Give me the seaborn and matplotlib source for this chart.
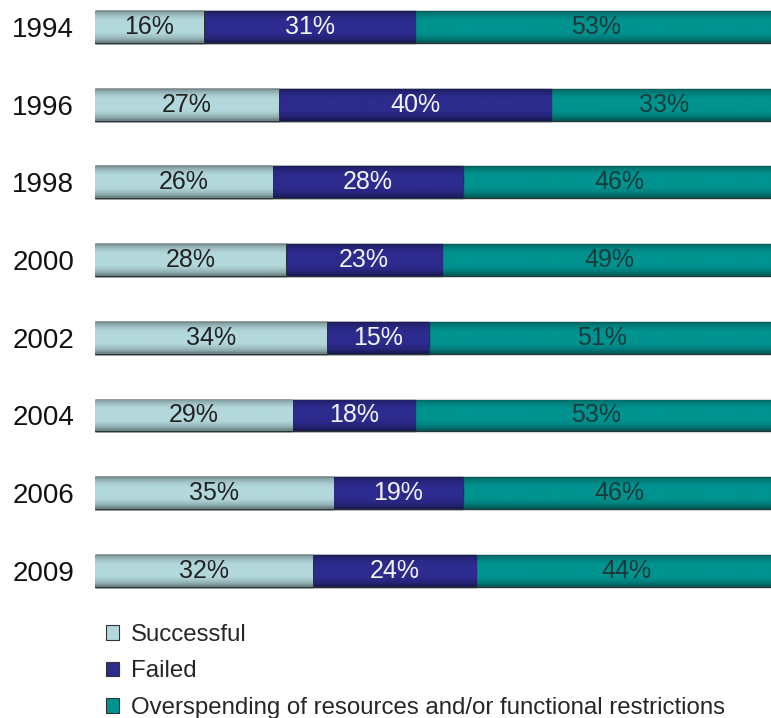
import matplotlib
matplotlib.use("Agg")
import matplotlib.pyplot as plt
import matplotlib.colors as mcolors
import seaborn as sns
import numpy as np
import pandas as pd
from matplotlib.patches import Patch

years = ["1994", "1996", "1998", "2000", "2002", "2004", "2006", "2009"]
successful = [16, 27, 26, 28, 34, 29, 35, 32]
failed = [31, 40, 28, 23, 15, 18, 19, 24]
overspending = [53, 33, 46, 49, 51, 53, 46, 44]
series_names = ["Successful", "Failed", "Overspending of resources and/or functional restrictions"]
colors = ["#b3d8dc", "#2d2b8e", "#00938f"]
text_colors = ["#222222", "#f4f4f4", "#1c3a3a"]

sns.set_theme(style="white")
plt.rcParams["font.family"] = ["Liberation Sans", "DejaVu Sans"]

W, H = 771, 718
fig = plt.figure(figsize=(W / 100, H / 100), dpi=100)
ax = fig.add_axes([95 / W, (H - 610) / H, 681 / W, 610 / H])

vals = np.array([successful, failed, overspending], dtype=float)
cum = np.cumsum(vals, axis=0)
df = pd.DataFrame({"year": years})
# vertical shading profile (top -> bottom) to mimic the glossy bars
t = np.linspace(0, 1, 64)
shade = 0.62 + 0.43 * np.sin(np.pi * np.clip(t * 1.05, 0, 1)) ** 0.6
shade = np.clip(shade, 0, 1.0)
for z, k in enumerate([2, 1, 0]):
    df["v"] = cum[k]
    n_before = len(ax.patches)
    sns.barplot(data=df, x="v", y="year", orient="h", color=colors[k],
                saturation=1, width=0.41, edgecolor="#2a3434", linewidth=1.0, ax=ax)
    base = np.array(mcolors.to_rgb(colors[k]))
    grad = np.clip(base[None, :] * shade[:, None] + (1 - shade[:, None]) * 0.0, 0, 1)
    grad = grad[:, None, :]
    for p in ax.patches[n_before:]:
        p.set_zorder(2 * z + 2)
        x0, y0 = p.get_x(), p.get_y()
        w, h = p.get_width(), p.get_height()
        im = ax.imshow(grad, extent=(x0, x0 + w, y0 + h, y0), aspect="auto",
                       interpolation="bilinear", zorder=2 * z + 2.5)
        im.set_clip_path(p)

ax.set_aspect("auto")
# labels
for i in range(len(years)):
    start = 0
    for k in range(3):
        v = vals[k][i]
        ax.text(start + v / 2, i, f"{int(v)}%", ha="center", va="center",
                fontsize=18, color=text_colors[k], zorder=20)
        start += v

ax.set_xlim(0, 100)
ax.set_ylim(7.503, -0.347)
ax.set_xlabel("")
ax.set_ylabel("")
ax.set_xticks([])
ax.tick_params(axis="y", length=0, labelsize=20, pad=15, colors="#111111")
for s in ax.spines.values():
    s.set_visible(False)

handles = [Patch(facecolor=c, edgecolor="#333333", linewidth=0.8) for c in colors]
fig.legend(handles, series_names, loc="upper left", bbox_to_anchor=(106 / W, 1 - 624 / H),
           frameon=False, fontsize=17.3, handlelength=0.55, handleheight=0.55,
           handletextpad=0.5, labelspacing=0.6, borderaxespad=0, borderpad=0)

fig.savefig("out.png", dpi=100)
